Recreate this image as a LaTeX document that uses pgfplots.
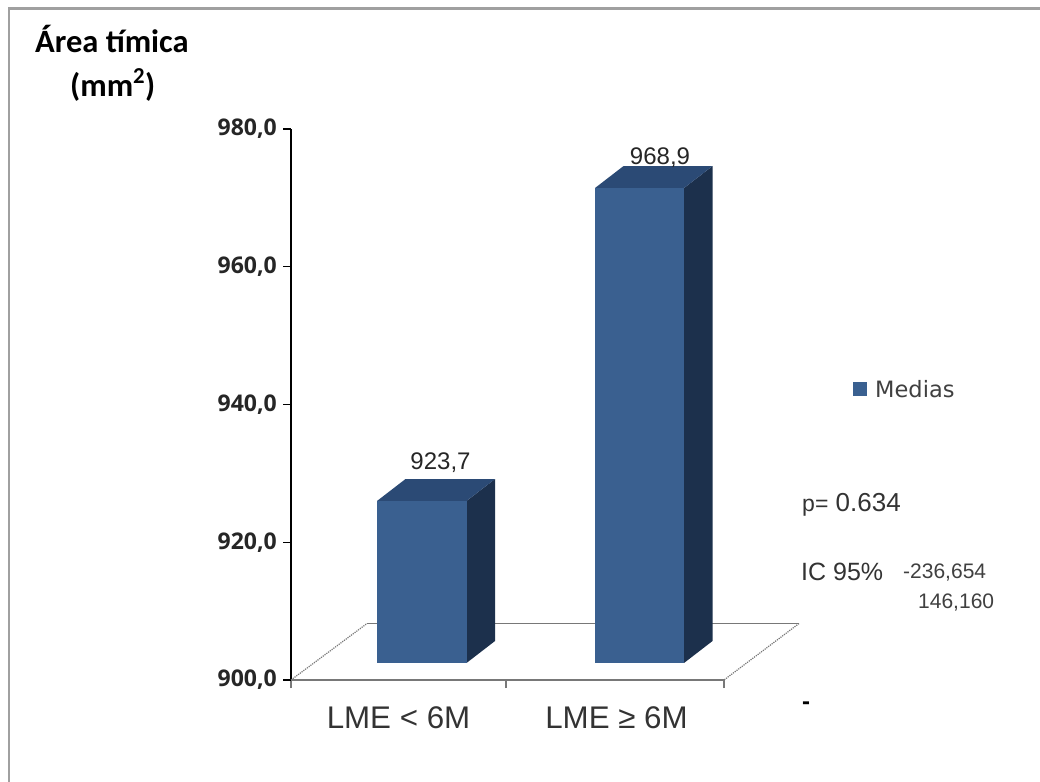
\documentclass[border=0pt]{standalone}
\usepackage{pgfplots}
\pgfplotsset{compat=1.18}
\usepackage{fontspec}
\setmainfont{Liberation Sans}
\newfontfamily\calib{Carlito}
\newfontfamily\taho{Open Sans}
\newfontfamily\deja{DejaVu Sans}
\definecolor{barfront}{HTML}{3A6090}
\definecolor{bartop}{HTML}{2B4A75}
\definecolor{barside}{HTML}{1C304C}
\definecolor{floorc}{HTML}{787878}
\definecolor{framec}{HTML}{A0A0A0}
\begin{document}
\begin{tikzpicture}[x=1pt,y=1pt]
\path[use as bounding box] (0,0) rectangle (1040,781);
\fill[white] (0,0) rectangle (1040,781);
\draw[framec,line width=2.4pt] (9,-5) -- (9,772.5) -- (1045,772.5);
\begin{axis}[
  at={(291pt,101pt)}, anchor=south west,
  scale only axis, width=433pt, height=551pt,
  xmin=291, xmax=724, ymin=900, ymax=980,
  clip=false,
  axis x line=bottom, axis y line=left,
  axis line style={-},
  x axis line style={floorc,line width=1.4pt},
  y axis line style={black,line width=1.4pt},
  ytick={900,920,940,960,980},
  xtick={291,506,724},
  xticklabels={},
  extra x ticks={398.5,616.5},
  extra x tick labels={LME < 6M,LME ≥ 6M},
  extra x tick style={major tick length=0pt,xticklabel style={font=\fontsize{31.3}{33}\selectfont,text=black!80,yshift=-23pt}},
  major tick length=8pt,
  x tick style={floorc,line width=1.4pt},
  y tick style={black,line width=1.2pt},
  tick align=outside,
  yticklabel style={font=\taho\fontsize{23}{25}\selectfont\bfseries,text=black!85,inner sep=6pt},
  /pgf/number format/.cd, fixed, fixed zerofill, precision=1, use comma, 1000 sep={}, assume math mode=true,
  /pgfplots/.cd,
  legend style={at={(axis cs:853,942.2)},anchor=west,draw=none,fill=none,inner sep=0pt,
    nodes={inner xsep=8pt,inner ysep=0pt},
    font=\deja\fontsize{22.5}{24}\selectfont,text=black!75},
  legend image code/.code={\fill[barfront] (0pt,-7pt) rectangle (14pt,7pt);},
]
% floor
\addplot[forget plot,floorc,line width=1.2pt,densely dotted] coordinates {(291,900) (367,908.2)};
\addplot[forget plot,floorc,line width=1.2pt] coordinates {(367,908.2) (799,908.2)};
\addplot[forget plot,floorc,line width=1.2pt,densely dotted] coordinates {(799,908.2) (724,900)};
% bar 1: 923,7
\addplot[forget plot,fill=barside,draw=none] coordinates {(466.5,902.47) (495,905.66) (495,929.18) (466.5,925.99)};
\addplot[forget plot,fill=bartop,draw=none] coordinates {(377,925.99) (405.5,929.18) (495,929.18) (466.5,925.99)};
\addplot[fill=barfront,draw=none] coordinates {(377,902.47) (466.5,902.47) (466.5,925.99) (377,925.99)};
\addlegendentry{Medias}
% bar 2: 968,9
\addplot[forget plot,fill=barside,draw=none] coordinates {(684,902.47) (712.5,905.66) (712.5,974.62) (684,971.43)};
\addplot[forget plot,fill=bartop,draw=none] coordinates {(595,971.43) (623.5,974.62) (712.5,974.62) (684,971.43)};
\addplot[forget plot,fill=barfront,draw=none] coordinates {(595,902.47) (684,902.47) (684,971.43) (595,971.43)};
\end{axis}
\begin{scope}[yshift=781pt,y=-1pt,x=1pt]
\node[font=\fontsize{24}{26}\selectfont,text=black!85] at (440.5,463) {923,7};
\node[font=\fontsize{24}{26}\selectfont,text=black!85] at (660,158) {968,9};
\node[font=\calib\bfseries\fontsize{32.5}{34}\selectfont,anchor=west,inner sep=0pt] at (35,39) {Área tímica};
\node[font=\calib\bfseries\fontsize{32.5}{34}\selectfont,anchor=base west,inner sep=0pt] at (70,97) {(mm\raisebox{4pt}{\textsuperscript{2}})};
\node[font=\fontsize{26}{28}\selectfont,text=black!80,anchor=west,inner sep=0pt] at (802,505) {{\fontsize{23}{25}\selectfont p=} 0.634};
\node[font=\fontsize{25}{28}\selectfont,text=black!80,anchor=west,inner sep=0pt] at (801,572) {IC 95\%};
\node[font=\fontsize{21}{24}\selectfont,text=black!75,anchor=west,inner sep=0pt] at (903,573) {-236,654};
\node[font=\fontsize{21}{24}\selectfont,text=black!75,anchor=west,inner sep=0pt] at (918,603) {146,160};
\node[font=\bfseries\fontsize{24}{26}\selectfont,text=black] at (806,706) {-};
\end{scope}
\end{tikzpicture}
\end{document}
